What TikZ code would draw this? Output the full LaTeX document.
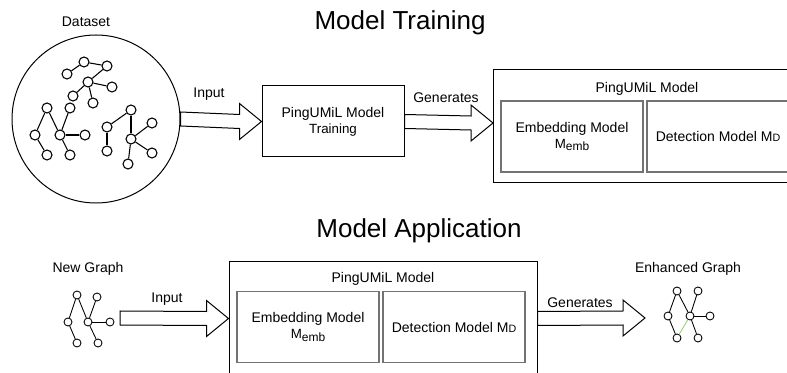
\documentclass[tikz,border=0pt]{standalone}
\usepackage{fontspec}
\setmainfont{Liberation Sans}
\usetikzlibrary{calc,positioning}

\tikzset{
  gnode/.style={circle, draw, fill=white, inner sep=0pt, minimum size=7.5pt, line width=0.8pt},
  snode/.style={gnode, minimum size=6pt, line width=0.65pt},
  gedge/.style={line width=0.8pt},
  sedge/.style={line width=0.65pt},
  box/.style={draw, line width=0.75pt, inner sep=0pt, align=center, minimum width=106.5pt, minimum height=53.25pt},
  bigbox/.style={draw, line width=0.75pt, inner sep=0pt, minimum width=231pt, minimum height=84.75pt},
  inbox/.style={draw=black!55, line width=1.1pt, inner sep=0pt, align=center, minimum width=106.5pt, minimum height=53.25pt},
  lbl/.style={font=\fontsize{10.5}{12.6}\selectfont, anchor=base},
  ttl/.style={font=\fontsize{19.5}{23}\selectfont, anchor=base},
}
\newcommand{\blockarrow}[2]{%
  \draw[line width=0.75pt, fill=white] ($(#1)+(0,-7)$) -- ($(#2)+(-22,-7)$) -- ($(#2)+(-22,-18)$)
    -- (#2) -- ($(#2)+(-22,18)$) -- ($(#2)+(-22,7)$) -- ($(#1)+(0,7)$) -- cycle;}
\newcommand{\memb}{M\raisebox{-2pt}{\fontsize{9}{10}\selectfont emb}}
\newcommand{\mdet}{M{\fontsize{8}{9}\selectfont D}}

\begin{document}
\begin{tikzpicture}[x=0.75pt, y=-0.75pt]
  \useasboundingbox (0,0) rectangle (787,373);
  \clip (0,0) rectangle (787,373);

  % titles
  \node[ttl] (ttrain) at (400,30) {Model Training};
  \node[ttl] (tapp) at (419,238) {Model Application};

  % dataset
  \node[lbl] (ldata) at (86,27) {Dataset};
  \node[draw, circle, line width=0.75pt, inner sep=0pt, minimum size=126pt] (data) at (96,119) {};

  \foreach \n/\x/\y in {1/67/74, 2/84/62, 3/107/66, 4/88/82, 5/112/87, 6/73/96, 7/93/103}
    \node[gnode] (ta\n) at (\x,\y) {};
  \foreach \a/\b in {1/2, 2/3, 3/4, 4/5, 4/6, 4/7}
    \draw[gedge] (ta\a) -- (ta\b);

  \foreach \n/\x/\y in {1/47/108, 2/70/108, 3/35/135, 4/60/135, 5/85/135, 6/47/155, 7/70/155}
    \node[gnode] (la\n) at (\x,\y) {};
  \foreach \a/\b in {1/3, 1/4, 2/4, 4/5, 3/6, 4/7}
    \draw[gedge] (la\a) -- (la\b);

  \foreach \n/\x/\y in {1/131/110, 2/107/127, 3/152/123, 4/131/139, 5/107/151, 6/152/153, 7/128/164}
    \node[gnode] (ra\n) at (\x,\y) {};
  \foreach \a/\b in {2/1, 1/4, 2/5, 4/3, 4/6, 4/7}
    \draw[gedge] (ra\a) -- (ra\b);

  % training
  \node[box] (train) at (333,121.5) {\fontsize{10.5}{18}\selectfont PingUMiL Model\\Training};

  % trained model
  \node[bigbox] (model1) at (647,126.5) {};
  \node[lbl] (lmodel1) at (647,93) {PingUMiL Model};
  \node[inbox] (emb1) at (572,136.5) {\fontsize{10.5}{16}\selectfont Embedding Model\\\memb};
  \node[inbox] (det1) at (718,136.5) {\fontsize{10.5}{12.6}\selectfont Detection Model \mdet};

  \coordinate (m1in) at (493,123);
  \blockarrow{data.east}{train.west}
  \blockarrow{train.east}{m1in}
  \node[lbl] (lin1) at (209,98) {Input};
  \node[lbl] (lgen1) at (446,103) {Generates};

  % new graph
  \node[lbl] (lnew) at (88,273) {New Graph};
  \foreach \n/\x/\y in {1/77/295, 2/97/297, 3/68/322, 4/88/322, 5/110/322, 6/77/343, 7/98/343}
    \node[snode] (ng\n) at (\x,\y) {};
  \foreach \a/\b in {1/3, 1/4, 2/4, 4/5, 3/6, 4/7}
    \draw[sedge] (ng\a) -- (ng\b);

  % applied model
  \node[bigbox] (model2) at (383,318.5) {};
  \node[lbl] (lmodel2) at (383,283) {PingUMiL Model};
  \node[inbox] (emb2) at (308,327) {\fontsize{10.5}{16}\selectfont Embedding Model\\\memb};
  \node[inbox] (det2) at (454,327) {\fontsize{10.5}{12.6}\selectfont Detection Model \mdet};

  % enhanced graph
  \node[lbl] (lenh) at (688,273) {Enhanced Graph};
  \foreach \n/\x/\y in {1/677/291, 2/698/291, 3/668/316, 4/690/316, 5/710/316, 6/677/338, 7/698/338}
    \node[snode] (eg\n) at (\x,\y) {};
  \foreach \a/\b in {1/3, 1/4, 2/4, 4/5, 3/6, 4/7}
    \draw[sedge] (eg\a) -- (eg\b);
  \draw[sedge, draw={rgb,255:red,151;green,208;blue,119}] (eg4) -- (eg6);

  \coordinate (ngout) at (120,318);
  \coordinate (egin) at (645,318);
  \blockarrow{ngout}{model2.west}
  \blockarrow{model2.east}{egin}
  \node[lbl] (lin2) at (167,303) {Input};
  \node[lbl] (lgen2) at (580,307) {Generates};
\end{tikzpicture}
\end{document}
